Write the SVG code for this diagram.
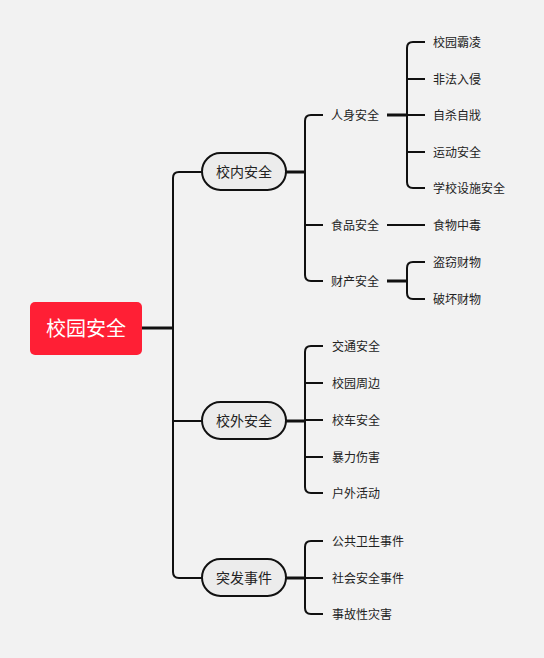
<svg xmlns="http://www.w3.org/2000/svg" width="544" height="658" viewBox="0 0 544 658">
<style>
.bg{fill:#f2f2f2}
.ln{fill:none;stroke:#111;stroke-width:2;stroke-linecap:butt}
.thick{fill:none;stroke:#111;stroke-width:3}
.pill{fill:#ececec;stroke:#111;stroke-width:2}
.t1{font-family:"Noto Sans CJK SC","Microsoft YaHei",sans-serif;font-size:14px;fill:#222;text-anchor:middle;dominant-baseline:central}
.t2{font-family:"Noto Sans CJK SC","Microsoft YaHei",sans-serif;font-size:12px;fill:#222;dominant-baseline:central}
.t0{font-family:"Noto Sans CJK SC","Microsoft YaHei",sans-serif;font-size:20px;fill:#fff;text-anchor:middle;dominant-baseline:central}
</style>
<rect class="bg" x="0" y="0" width="544" height="658"/>
<g id="connectors">
<path class="thick" d="M142,328 H173"/>
<path class="ln" d="M202,172 H179 Q173,172 173,178 V572 Q173,578 179,578 H202"/>
<path class="ln" d="M173,421 H202"/>
<path class="thick" d="M286,172 H305"/>
<path class="ln" d="M323,115 H311 Q305,115 305,121 V275 Q305,281 311,281 H323"/>
<path class="ln" d="M305,225 H323"/>
<path class="thick" d="M387,115 H407"/>
<path class="ln" d="M425,42 H413 Q407,42 407,48 V182 Q407,188 413,188 H425"/>
<path class="ln" d="M407,79 H425 M407,115 H425 M407,152 H425"/>
<path class="ln" d="M387,225 H425"/>
<path class="thick" d="M387,281 H407"/>
<path class="ln" d="M425,262 H413 Q407,262 407,268 V293 Q407,299 413,299 H425"/>
<path class="thick" d="M286,421 H305"/>
<path class="ln" d="M323,346 H311 Q305,346 305,352 V487 Q305,493 311,493 H323"/>
<path class="ln" d="M305,383 H323 M305,420 H323 M305,457 H323"/>
<path class="thick" d="M286,578 H305"/>
<path class="ln" d="M323,541 H311 Q305,541 305,547 V608 Q305,614 311,614 H323"/>
<path class="ln" d="M305,578 H323"/>
</g>
<g id="root">
<rect x="30" y="302" width="112" height="53" rx="5" fill="#ff1f35"/>
<text class="t0" x="86" y="327">校园安全</text>
</g>
<g id="n-xiaonei">
<rect class="pill" x="202" y="153" width="84" height="37" rx="18.5"/>
<text class="t1" x="244" y="171">校内安全</text>
</g>
<g id="n-xiaowai">
<rect class="pill" x="202" y="402" width="84" height="37" rx="18.5"/>
<text class="t1" x="244" y="420">校外安全</text>
</g>
<g id="n-tufa">
<rect class="pill" x="202" y="559" width="84" height="37" rx="18.5"/>
<text class="t1" x="244" y="577">突发事件</text>
</g>
<g id="n-renshen"><text class="t2" x="331" y="114">人身安全</text></g>
<g id="n-shipin"><text class="t2" x="331" y="224">食品安全</text></g>
<g id="n-caichan"><text class="t2" x="331" y="280">财产安全</text></g>
<g id="n-baling"><text class="t2" x="433" y="41">校园霸凌</text></g>
<g id="n-feifa"><text class="t2" x="433" y="78">非法入侵</text></g>
<g id="n-zisha"><text class="t2" x="433" y="114">自杀自戕</text></g>
<g id="n-yundong"><text class="t2" x="433" y="151">运动安全</text></g>
<g id="n-sheshi"><text class="t2" x="433" y="187">学校设施安全</text></g>
<g id="n-zhongdu"><text class="t2" x="433" y="224">食物中毒</text></g>
<g id="n-daoqie"><text class="t2" x="433" y="261">盗窃财物</text></g>
<g id="n-pohuai"><text class="t2" x="433" y="298">破坏财物</text></g>
<g id="n-jiaotong"><text class="t2" x="332" y="345">交通安全</text></g>
<g id="n-zhoubian"><text class="t2" x="332" y="382">校园周边</text></g>
<g id="n-xiaoche"><text class="t2" x="332" y="419">校车安全</text></g>
<g id="n-baoli"><text class="t2" x="332" y="456">暴力伤害</text></g>
<g id="n-huwai"><text class="t2" x="332" y="492">户外活动</text></g>
<g id="n-gonggong"><text class="t2" x="332" y="540">公共卫生事件</text></g>
<g id="n-shehui"><text class="t2" x="332" y="577">社会安全事件</text></g>
<g id="n-shigu"><text class="t2" x="332" y="613">事故性灾害</text></g>
</svg>
